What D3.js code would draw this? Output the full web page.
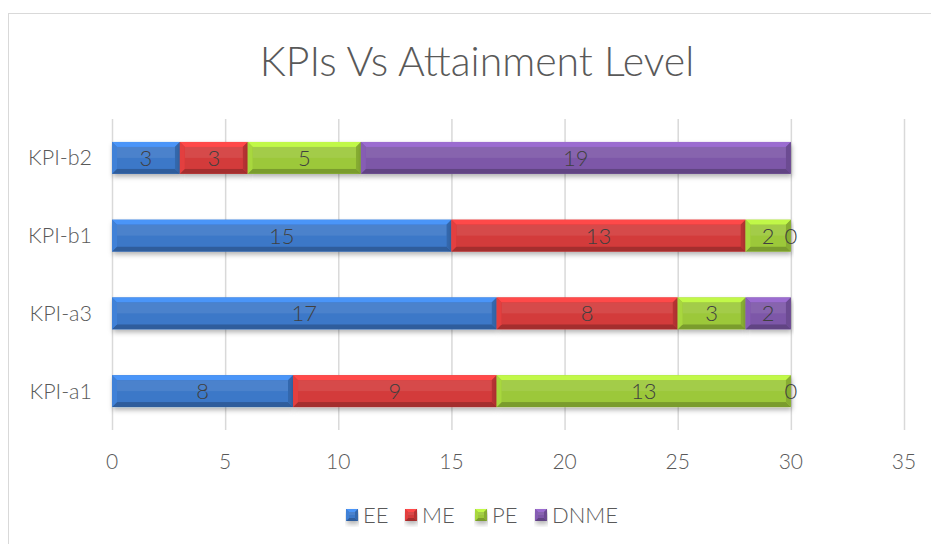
<!DOCTYPE html>
<html><head><meta charset="utf-8">
<script src="https://cdn.jsdelivr.net/npm/d3@7"></script>
<style>body{margin:0;background:#fff}svg{display:block}text{font-family:Lato,"Open Sans",sans-serif;font-weight:300}</style>
</head><body>
<script>
const categories = ["KPI-a1","KPI-a3","KPI-b1","KPI-b2"];
const seriesNames = ["EE","ME","PE","DNME"];
const EE   = [8, 17, 15, 3];
const ME   = [9, 8, 13, 3];
const PE   = [13, 3, 2, 5];
const DNME = [0, 2, 0, 19];
const xTicks = [0,5,10,15,20,25,30,35];
const colors = ["#3c78c8","#d33b3b","#9cc83a","#7d57a8"];

const W=931,H=544;
const svg=d3.select("body").append("svg").attr("width",W).attr("height",H);
svg.append("rect").attr("x",8.5).attr("y",13.5).attr("width",940).attr("height",560).attr("fill","#fff").attr("stroke","#d9d9d9");

const x=d3.scaleLinear().domain([0,35]).range([112,904]);
const y=d3.scaleBand().domain(categories.slice().reverse()).range([119,430]).paddingInner(0.59).paddingOuter(0.295);

svg.append("text").attr("x",477).attr("y",76).attr("text-anchor","middle").attr("font-size",41).attr("fill","#595959").text("KPIs Vs Attainment Level");

// grid
svg.append("g").selectAll("line").data(xTicks).join("line")
 .attr("x1",d=>x(d)+0.5).attr("x2",d=>x(d)+0.5).attr("y1",119).attr("y2",430)
 .attr("stroke","#d9d9d9").attr("stroke-width",1.5);

// axis labels
svg.append("g").selectAll("text").data(xTicks).join("text")
 .attr("x",d=>x(d)).attr("y",469).attr("text-anchor","middle").attr("font-size",21).attr("fill","#595959").text(d=>d);
svg.append("g").selectAll("text").data(categories).join("text")
 .attr("x",92).attr("y",d=>y(d)+y.bandwidth()/2).attr("dy","0.35em").attr("text-anchor","end").attr("font-size",21.5).attr("fill","#595959").text(d=>d);

const defs=svg.append("defs");
const f=defs.append("filter").attr("id","sh").attr("x","-5%").attr("y","-30%").attr("width","110%").attr("height","180%");
f.append("feDropShadow").attr("dx",1).attr("dy",3).attr("stdDeviation",2.5).attr("flood-color","#000").attr("flood-opacity",0.3);

const vals=[EE,ME,PE,DNME];
const stackData=categories.map((c,i)=>{const o={cat:c};seriesNames.forEach((s,j)=>o[s]=vals[j][i]);return o;});
const stacked=d3.stack().keys(seriesNames)(stackData);

function bevel(g,x0,x1,y0,y1,col,bb){
  const b=Math.min(bb||5,(x1-x0)/2);
  const c=d3.color(col);
  g.append("rect").attr("x",x0).attr("y",y0).attr("width",x1-x0).attr("height",y1-y0).attr("fill",col).attr("filter","url(#sh)");
  const pts=(a)=>a.map(p=>p.join(",")).join(" ");
  g.append("polygon").attr("points",pts([[x0,y0],[x1,y0],[x1-b,y0+b],[x0+b,y0+b]])).attr("fill",c.brighter(0.6));
  g.append("polygon").attr("points",pts([[x0,y1],[x1,y1],[x1-b,y1-b],[x0+b,y1-b]])).attr("fill",c.darker(0.7));
  g.append("polygon").attr("points",pts([[x0,y0],[x0+b,y0+b],[x0+b,y1-b],[x0,y1]])).attr("fill",c.brighter(0.2));
  g.append("polygon").attr("points",pts([[x1,y0],[x1-b,y0+b],[x1-b,y1-b],[x1,y1]])).attr("fill",c.darker(0.4));
  g.append("rect").attr("x",x0+b).attr("y",y0+b).attr("width",Math.max(0,x1-x0-2*b)).attr("height",y1-y0-2*b).attr("fill",col);
  g.append("rect").attr("x",x0+b).attr("y",y0+b).attr("width",Math.max(0,x1-x0-2*b)).attr("height",(y1-y0-2*b)/2).attr("fill","#fff").attr("opacity",0.08);
}

const bars=svg.append("g");
stacked.forEach((layer,j)=>{
  layer.forEach(d=>{
    if(d[1]-d[0]<=0)return;
    const y0=y(d.data.cat), y1=y0+y.bandwidth();
    bevel(bars.append("g"),x(d[0]),x(d[1]),y0,y1,colors[j]);
  });
});
const labels=svg.append("g");
stacked.forEach((layer,j)=>{
  layer.forEach(d=>{
    labels.append("text").attr("x",x((d[0]+d[1])/2)).attr("y",y(d.data.cat)+y.bandwidth()/2).attr("dy","0.36em")
     .attr("text-anchor","middle").attr("font-size",22).attr("fill","#404040").text(d[1]-d[0]);
  });
});

// legend
const legX=[346,405,475,535];
const lg=svg.append("g");
seriesNames.forEach((s,j)=>{
  const g=lg.append("g");
  bevel(g,legX[j],legX[j]+12,509,521,colors[j],3);
  g.append("text").attr("x",legX[j]+17).attr("y",515).attr("dy","0.36em").attr("font-size",22).attr("fill","#595959").text(s);
});
</script>
</body></html>
